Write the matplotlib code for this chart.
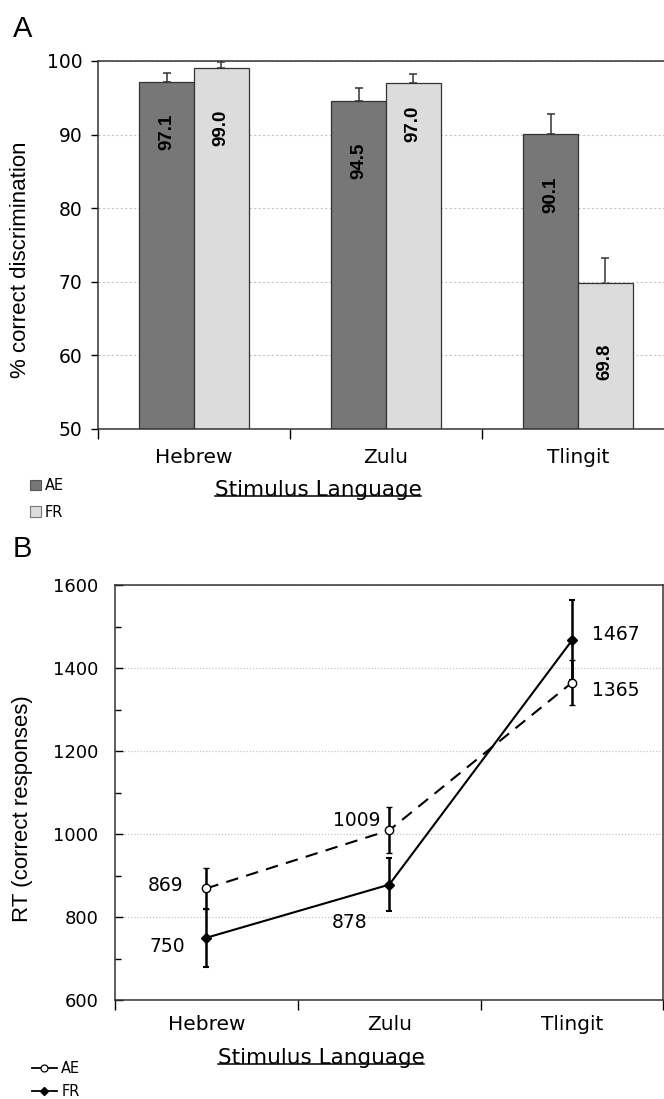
import matplotlib
matplotlib.use("Agg")
from matplotlib import pyplot as plt
from matplotlib.lines import Line2D
from matplotlib.patches import Patch
import numpy as np

languages = ["Hebrew", "Zulu", "Tlingit"]
groups = ["AE", "FR"]

# panel A: % correct discrimination
acc_ae = [97.1, 94.5, 90.1]
acc_fr = [99.0, 97.0, 69.8]
acc_ae_err = [1.3, 1.8, 2.7]
acc_fr_err = [0.8, 1.2, 3.4]

# panel B: RT for correct responses
rt_ae = [869, 1009, 1365]
rt_fr = [750, 878, 1467]
rt_ae_err = [50, 55, 55]
rt_fr_err = [70, 63, 96]

dark = "#777777"
light = "#dcdcdc"
sans = ["DejaVu Sans"]
helv = ["Liberation Sans", "DejaVu Sans"]

fig = plt.figure(figsize=(6.64, 10.99), dpi=100)
W, H = 664, 1099


def px_axes(x0, y0, x1, y1):
    return fig.add_axes([x0 / W, 1 - y1 / H, (x1 - x0) / W, (y1 - y0) / H])


x = np.arange(len(languages))

# ---------------- panel A ----------------
axA = px_axes(98, 61, 674, 429)
bw = 0.285
axA.bar(x - bw / 2, acc_ae, bw, color=dark, edgecolor="#333333", linewidth=0.9, zorder=2)
axA.bar(x + bw / 2, acc_fr, bw, color=light, edgecolor="#333333", linewidth=0.9, zorder=2)
axA.errorbar(x - bw / 2, acc_ae, yerr=[np.zeros(3), acc_ae_err], fmt="none",
             ecolor="#333333", elinewidth=1.1, capsize=3, capthick=1.1, zorder=1)
axA.errorbar(x + bw / 2, acc_fr, yerr=[np.zeros(3), acc_fr_err], fmt="none",
             ecolor="#333333", elinewidth=1.1, capsize=3, capthick=1.1, zorder=1)

# label drop below bar top (Excel labels were placed by hand)
drop_ae = [6.75, 8.1, 8.3]
drop_fr = [8.1, 5.6, 10.6]
for i in range(len(languages)):
    axA.text(x[i] - bw / 2, acc_ae[i] - drop_ae[i], f"{acc_ae[i]:.1f}", rotation=90,
             ha="center", va="center", fontsize=13.5, fontweight="bold", family=helv, zorder=3)
    axA.text(x[i] + bw / 2, acc_fr[i] - drop_fr[i], f"{acc_fr[i]:.1f}", rotation=90,
             ha="center", va="center", fontsize=13.5, fontweight="bold", family=helv, zorder=3)

axA.set_ylim(50, 100)
axA.set_xlim(-0.5, 2.5)
axA.set_yticks([50, 60, 70, 80, 90, 100])
axA.tick_params(axis="y", direction="out", length=5, width=1, pad=6, labelsize=13.5)
for lab in axA.get_yticklabels():
    lab.set_family(sans)
axA.set_xticks([-0.5, 0.5, 1.5, 2.5])
axA.set_xticklabels([])
axA.tick_params(axis="x", which="major", direction="out", length=7, width=1)
axA.set_xticks(x, minor=True)
axA.set_xticklabels(languages, minor=True, fontsize=14.5, family=sans)
axA.tick_params(axis="x", which="minor", length=0, pad=14)
axA.grid(axis="y", color="#c4c4c4", linestyle=(0, (2, 2)), linewidth=0.8, zorder=0)
for s in axA.spines.values():
    s.set_color("#333333")
    s.set_linewidth(1.1)
axA.set_ylabel("% correct discrimination", fontsize=16, family=helv)
axA.yaxis.set_label_coords(-0.116, 0.46)

# ---------------- panel B ----------------
axB = px_axes(115, 585, 663.5, 1000)
axB.errorbar(x, rt_ae, yerr=rt_ae_err, color="black", linestyle=(0, (6, 4)), linewidth=1.5,
             marker="o", markersize=6, markerfacecolor="white", markeredgecolor="black",
             markeredgewidth=1, ecolor="black", elinewidth=1.8, capsize=2.5, capthick=1.5, zorder=3)
axB.errorbar(x, rt_fr, yerr=rt_fr_err, color="black", linestyle="-", linewidth=1.5,
             marker="D", markersize=5, markerfacecolor="black", markeredgecolor="black",
             ecolor="black", elinewidth=1.8, capsize=2.5, capthick=1.5, zorder=3)

# label offsets in pixels from each point
off_ae = [(-41, 3), (-33, 10), (44, -8)]
off_fr = [(-39, -9), (-40, -38), (44, 6)]
for i in range(len(languages)):
    axB.annotate(str(rt_ae[i]), (x[i], rt_ae[i]), xytext=(off_ae[i][0] / 1.389, off_ae[i][1] / 1.389),
                 textcoords="offset points", ha="center", va="center", fontsize=13.5, family=sans)
    axB.annotate(str(rt_fr[i]), (x[i], rt_fr[i]), xytext=(off_fr[i][0] / 1.389, off_fr[i][1] / 1.389),
                 textcoords="offset points", ha="center", va="center", fontsize=13.5, family=sans)

axB.set_ylim(600, 1600)
axB.set_xlim(-0.5, 2.5)
axB.set_yticks(np.arange(600, 1601, 200))
axB.set_yticks(np.arange(700, 1600, 200), minor=True)
axB.tick_params(axis="y", which="major", direction="in", length=6, width=1, pad=12, labelsize=13)
axB.tick_params(axis="y", which="minor", direction="in", length=4, width=1)
for lab in axB.get_yticklabels():
    lab.set_family(sans)
axB.set_xticks([-0.5, 0.5, 1.5, 2.5])
axB.set_xticklabels([])
axB.tick_params(axis="x", which="major", direction="out", length=7, width=1)
axB.set_xticks(x, minor=True)
axB.set_xticklabels(languages, minor=True, fontsize=14.5, family=sans)
axB.tick_params(axis="x", which="minor", length=0, pad=11)
axB.grid(axis="y", which="major", color="#c4c4c4", linestyle=(0, (1, 1.5)), linewidth=0.9, zorder=0)
for s in axB.spines.values():
    s.set_color("#333333")
    s.set_linewidth(1.1)
axB.set_ylabel("RT (correct responses)", fontsize=16, family=helv)
axB.yaxis.set_label_coords(-0.15, 0.46)

# panel letters
fig.text(13 / W, 1 - 29 / H, "A", fontsize=21, family=helv, va="center", ha="left")
fig.text(13 / W, 1 - 549 / H, "B", fontsize=21, family=helv, va="center", ha="left")

# axis titles, underlined
tA = fig.text(318 / W, 1 - 490 / H, "Stimulus Language", fontsize=15.5, family=sans,
              ha="center", va="center")
tB = fig.text(321 / W, 1 - 1058 / H, "Stimulus Language", fontsize=15.5, family=sans,
              ha="center", va="center")

# legends
hA = [Patch(facecolor=dark, edgecolor="#555555", linewidth=0.8),
      Patch(facecolor=light, edgecolor="#777777", linewidth=0.8)]
fig.legend(hA, groups, loc="center left", bbox_to_anchor=(30 / W, 1 - 499 / H), frameon=False,
           handlelength=0.75, handleheight=0.75, handletextpad=0.25, labelspacing=0.8,
           prop={"family": "DejaVu Sans", "size": 10.5}, borderaxespad=0, borderpad=0)
hB = [Line2D([], [], color="black", linestyle="-", linewidth=1.3, marker="o", markersize=5,
             markerfacecolor="white", markeredgewidth=0.9),
      Line2D([], [], color="black", linestyle="-", linewidth=1.3, marker="D", markersize=4.5)]
fig.legend(hB, groups, loc="center left", bbox_to_anchor=(32 / W, 1 - 1080 / H), frameon=False,
           handlelength=1.7, handletextpad=0.3, labelspacing=0.6,
           prop={"family": "DejaVu Sans", "size": 10.5}, borderaxespad=0, borderpad=0)

fig.canvas.draw()
r = fig.canvas.get_renderer()
for t in (tA, tB):
    bb = t.get_window_extent(r).transformed(fig.transFigure.inverted())
    yline = bb.y0 + 0.2 * (bb.y1 - bb.y0)
    fig.add_artist(Line2D([bb.x0, bb.x1], [yline, yline], color="black", linewidth=1.1,
                          transform=fig.transFigure))

fig.savefig("out.png", dpi=100, facecolor="white")
